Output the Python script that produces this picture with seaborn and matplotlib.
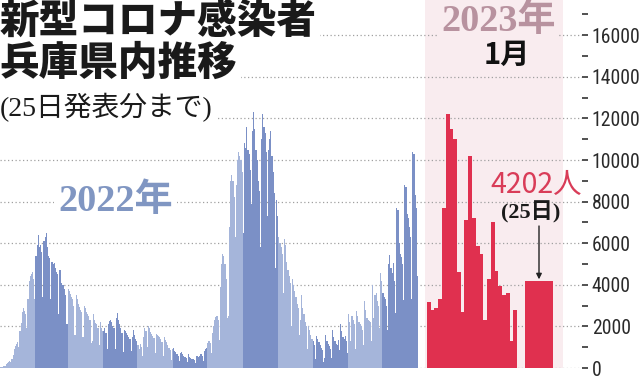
import numpy as np
import pandas as pd
import matplotlib
matplotlib.use("Agg")
import matplotlib.pyplot as plt
from matplotlib import font_manager
from matplotlib.font_manager import FontProperties
from matplotlib.textpath import TextPath
import seaborn as sns

# daily new cases in Hyogo, 2022 (one list per month)
jan22 = [40, 60, 50, 80, 120, 180, 240, 300, 330, 290,
         420, 640, 900, 1050, 1150, 1250, 1000, 1800, 2150, 2700,
         2900, 2750, 2600, 1900, 3300, 4200, 4400, 4500, 4600, 4300, 3300]
feb22 = [5400, 5900, 6400, 5800, 5900, 5600, 3400, 6100, 6300, 6500,
         5800, 5400, 5300, 3300, 5100, 5000, 5050, 4800, 4600, 4500,
         2600, 4700, 4100, 4000, 4000, 3800, 3500, 2100]
mar22 = [3800, 3700, 3550, 3400, 3300, 3000, 1600, 3500, 3300, 3100,
         2950, 2800, 2700, 1500, 3000, 2900, 2700, 2600, 2500, 2300,
         1200, 1300, 2600, 2300, 2150, 2100, 1900, 1100, 2200, 1900, 1800]
apr22 = [1800, 1900, 1700, 900, 2100, 2250, 2300, 2200, 2000, 1900,
         900, 2400, 2650, 2300, 2100, 1900, 1700, 750, 1850, 1800,
         1700, 1600, 1500, 1400, 800, 1500, 1850, 1600, 1400, 1300]
may22 = [1100, 900, 1150, 1000, 600, 1500, 1900, 1800, 1000, 2000,
         1900, 1750, 1650, 1550, 1450, 700, 1650, 1600, 1550, 1500,
         1400, 1250, 600, 1500, 1350, 1250, 1100, 950, 850, 400, 900]
jun22 = [950, 800, 750, 650, 600, 350, 700, 750, 650, 600,
         550, 500, 300, 650, 550, 500, 450, 420, 380, 250,
         560, 600, 550, 600, 650, 560, 350, 800, 900, 950]
jul22 = [1200, 1300, 1200, 700, 1700, 2000, 2300, 2450, 2500, 2300,
         1350, 3900, 5000, 5500, 5400, 5000, 4300, 2400, 2500, 6800,
         9000, 9300, 9000, 8200, 6300, 8800, 10000, 10400, 10200, 10000, 9400]
aug22 = [6500, 10800, 10600, 11600, 10500, 10300, 9500, 7900, 11400, 12300,
         11500, 10500, 10000, 9000, 8500, 5800, 11000, 12200, 11600, 11300,
         10400, 7300, 10500, 11000, 11400, 10200, 9400, 8400, 4800, 8100, 7300]
sep22 = [6300, 6000, 5800, 5500, 3600, 6200, 5900, 5100, 4700, 4400,
         4100, 2000, 4300, 4000, 3700, 3400, 3100, 2900, 1600, 2300,
         3500, 2900, 2600, 2200, 2000, 900, 2000, 1850, 1600, 1400]
oct22 = [1300, 1100, 450, 1550, 1400, 1250, 1100, 950, 850, 300,
         500, 1600, 1300, 1150, 1050, 900, 500, 1850, 1500, 1300,
         1150, 1100, 1350, 850, 2100, 1800, 1500, 1400, 1550, 1300, 700]
nov22 = [2600, 2200, 1300, 2500, 2300, 2100, 900, 2750, 2500, 2200,
         2100, 2000, 1850, 1100, 3200, 2800, 2400, 2300, 2250, 2200,
         1300, 4000, 2400, 3500, 3600, 3200, 3000, 1900, 4550, 4200]
dec22 = [3600, 3400, 3300, 3000, 1850, 5000, 5450, 4800, 4550, 5050,
         4200, 2650, 7700, 7600, 6000, 5500, 5350, 5000, 3250, 8800,
         8700, 7400, 7200, 6800, 6300, 3300, 10400, 10300, 8300, 7700, 4400]
months22 = [jan22, feb22, mar22, apr22, may22, jun22,
            jul22, aug22, sep22, oct22, nov22, dec22]

# January 2023, days 1-24, plus the highlighted 25th
jan23 = [3170, 2770, 2880, 3330, 7700, 12200, 11500, 11000, 4620, 2700,
         7100, 10200, 7200, 5850, 5500, 2330, 4300, 7000, 4650, 3950,
         3500, 3600, 1280, 2780]
jan25_23 = 4202

ymajor = list(range(0, 16001, 2000))
yminor = list(range(1000, 17001, 2000))

# colours
LIGHT = "#a5b5da"
DARK = "#7b90c6"
RED = "#e0304f"
PINK = "#f9ecef"

sns.set_theme(style="white")
plt.rcParams["font.family"] = ["Noto Sans CJK JP", "DejaVu Sans"]
installed = {f.name for f in font_manager.fontManager.ttflist}
tick_font = next((f for f in ["Liberation Sans Narrow", "Roboto Condensed", "Roboto"]
                  if f in installed), "DejaVu Sans")
# size the tick labels so that "16000" is about 46 px wide
w10 = TextPath((0, 0), "16000", size=10, prop=FontProperties(family=tick_font)).get_extents().width
tick_size = min(16, 10 * (46 * 0.72) / w10)
SERIF = ["Liberation Serif", "Noto Sans CJK JP"]

W, H = 640, 377
base_px = 368        # y pixel of zero line
right_px = 582       # right edge of plot area
px_day = 1.145       # width of one 2022 day in pixels
px_per_k = 20.8      # pixels per 1000 cases

fig = plt.figure(figsize=(W / 100, H / 100), dpi=100)
fig.patch.set_facecolor("white")
ax = fig.add_axes([0, (H - base_px) / H, right_px / W, base_px / H])

# 2022 frame
vals22 = np.concatenate(months22)
shade = np.concatenate([["light" if m % 2 == 0 else "dark"] * len(v)
                        for m, v in enumerate(months22)])
df22 = pd.DataFrame({"day": np.arange(len(vals22)) + 0.5,
                     "cases": vals22, "shade": shade})

# 2023 frame (wider days, placed after a small gap)
x23_start = 427 / px_day
x23_step = 3.75 / px_day
df23 = pd.DataFrame({"day": x23_start + x23_step * (np.arange(len(jan23)) + 0.5),
                     "cases": jan23})
x25 = 539 / px_day
w25 = 28 / px_day

ax.axvspan(425 / px_day, 563 / px_day, color=PINK, lw=0, zorder=0)

sns.barplot(data=df22, x="day", y="cases", hue="shade",
            palette={"light": LIGHT, "dark": DARK}, native_scale=True,
            width=1.08, dodge=False, errorbar=None, legend=False,
            saturation=1, linewidth=0, edgecolor="none", ax=ax)
sns.barplot(data=df23, x="day", y="cases", color=RED, native_scale=True,
            width=1.03, errorbar=None, saturation=1, linewidth=0,
            edgecolor="none", ax=ax)
sns.barplot(x=[x25], y=[jan25_23], color=RED, native_scale=True, width=w25,
            errorbar=None, saturation=1, linewidth=0, edgecolor="none", ax=ax)

ax.set_xlim(0, right_px / px_day)
ax.set_ylim(0, base_px / px_per_k * 1000)
ax.set_xlabel("")
ax.set_ylabel("")
ax.set_xticks([])
for s in ax.spines.values():
    s.set_visible(False)

ax.yaxis.tick_right()
ax.set_yticks(ymajor)
ax.set_yticks(yminor, minor=True)
ax.set_yticklabels([str(v) for v in ymajor], fontfamily=[tick_font, "DejaVu Sans"],
                   fontsize=tick_size, color="#2a2a2a")
ax.tick_params(axis="y", which="both", direction="out", length=4, width=1.2,
               pad=3.0, color="#333333", right=True, left=False)
ax.set_axisbelow(True)
ax.yaxis.grid(True, which="major", linestyle=(0, (1, 2)), color="#a0a0a0", linewidth=0.9)
ax.xaxis.grid(False)

# arrow to the 25th bar
ax.annotate("", xy=(x25, jan25_23 + 60), xytext=(x25, (base_px - 226) / px_per_k * 1000),
            arrowprops=dict(arrowstyle="-|>", color="#222222", lw=1.0,
                            mutation_scale=8, shrinkA=0, shrinkB=0))


def ftext(x, y, s, **kw):
    return fig.text(x / W, 1 - y / H, s, **kw)


white = dict(facecolor="white", edgecolor="none", pad=2)
ftext(0, 1, "新型コロナ感染者", fontsize=28.5, fontweight=900, va="top",
      color="#1a1a1a", bbox=white)
ftext(0, 43, "兵庫県内推移", fontsize=28.5, fontweight=900, va="top",
      color="#1a1a1a", bbox=white)
ftext(0, 93, "(25日発表分まで)", fontsize=20, family=SERIF, va="top",
      color="#1a1a1a", bbox=white)
ftext(58, 183, "2022年", fontsize=27.5, fontweight="bold", family=SERIF, va="top",
      color="#8096c2", bbox=dict(facecolor="white", edgecolor="none", pad=3))
ftext(441, 3, "2023年", fontsize=27.5, fontweight="bold", family=SERIF, va="top",
      color="#b8929f", bbox=dict(facecolor=PINK, edgecolor="none", pad=2))
ftext(507, 40, "1月", fontsize=21, fontweight="bold", va="top", ha="center",
      color="#111111")
ftext(582, 170, "4202人", fontsize=20.5, va="top", ha="right", color="#d93c58")
ftext(531, 201, "(25日)", fontsize=16, fontweight="bold", family=SERIF, va="top",
      ha="center", color="#1a1a1a")

fig.savefig("out.png", dpi=100)
